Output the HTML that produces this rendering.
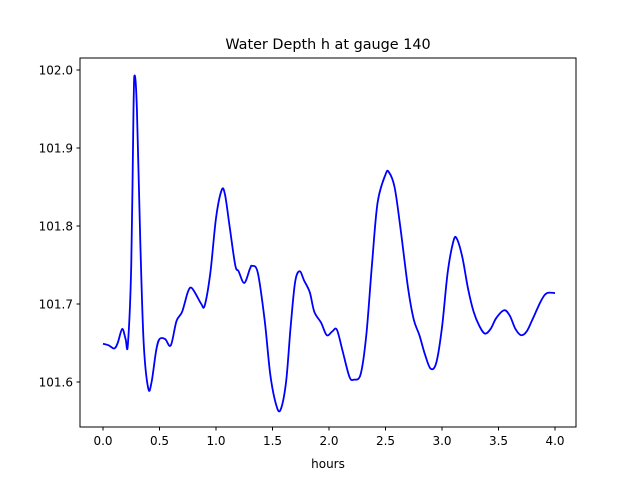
<!DOCTYPE html>
<html><head><meta charset="utf-8"><style>
body{margin:0;background:#fff}
svg text{font-family:"DejaVu Sans","Liberation Sans",sans-serif;fill:#000}
</style></head><body>
<svg id="chart" width="640" height="480" xmlns="http://www.w3.org/2000/svg">
<rect width="640" height="480" fill="#fff"/>
<text x="328" y="49" font-size="14.4" text-anchor="middle">Water Depth h at gauge 140</text>
<text x="328" y="468" font-size="12" text-anchor="middle">hours</text>
<g id="ticks"></g>
<path id="line" fill="none" stroke="#0000ff" stroke-width="1.8" stroke-linejoin="round"/>
<rect x="80" y="58" width="496" height="369" fill="none" stroke="#000" stroke-width="1"/>
</svg>
<script>
const hours=[0,0.05,0.1,0.13,0.17,0.2,0.22,0.25,0.27,0.28,0.30,0.33,0.36,0.40,0.43,0.47,0.5,0.55,0.6,0.65,0.7,0.75,0.78,0.82,0.87,0.9,0.95,1.0,1.05,1.08,1.12,1.17,1.2,1.25,1.3,1.32,1.37,1.43,1.48,1.53,1.57,1.62,1.66,1.7,1.74,1.78,1.83,1.87,1.93,1.98,2.03,2.07,2.12,2.18,2.22,2.28,2.33,2.38,2.43,2.5,2.53,2.58,2.63,2.7,2.75,2.8,2.85,2.9,2.95,3.0,3.05,3.1,3.13,3.18,3.23,3.28,3.33,3.38,3.43,3.48,3.55,3.6,3.65,3.7,3.75,3.8,3.88,3.93,4.0];
const depth=[101.649,101.647,101.643,101.650,101.668,101.655,101.648,101.75,101.95,101.993,101.95,101.78,101.65,101.592,101.60,101.64,101.655,101.655,101.647,101.678,101.69,101.715,101.721,101.713,101.70,101.698,101.74,101.81,101.846,101.84,101.80,101.75,101.742,101.727,101.745,101.749,101.74,101.68,101.61,101.572,101.564,101.60,101.67,101.728,101.742,101.73,101.715,101.69,101.676,101.66,101.665,101.667,101.64,101.607,101.603,101.61,101.66,101.75,101.83,101.866,101.869,101.85,101.80,101.72,101.68,101.66,101.635,101.617,101.625,101.67,101.74,101.78,101.784,101.76,101.72,101.69,101.672,101.662,101.668,101.682,101.692,101.685,101.668,101.66,101.665,101.68,101.705,101.714,101.714];
const xTicks=[0,0.5,1,1.5,2,2.5,3,3.5,4];
const xTickLabels=["0.0","0.5","1.0","1.5","2.0","2.5","3.0","3.5","4.0"];
const yTicks=[101.6,101.7,101.8,101.9,102.0];
const yTickLabels=["101.6","101.7","101.8","101.9","102.0"];
const X=v=>103+v*113;
const Y=v=>382-(v-101.6)*780;
const NS="http://www.w3.org/2000/svg";
const g=document.getElementById('ticks');
xTicks.forEach((t,i)=>{
  const l=document.createElementNS(NS,'line');
  l.setAttribute('x1',X(t));l.setAttribute('x2',X(t));l.setAttribute('y1',427);l.setAttribute('y2',430.5);l.setAttribute('stroke','#000');
  
  
  g.appendChild(l);
  const tx=document.createElementNS(NS,'text');
  tx.setAttribute('x',X(t));tx.setAttribute('y',445);tx.setAttribute('font-size','12');tx.setAttribute('text-anchor','middle');
  tx.textContent=xTickLabels[i];
  
  
  g.appendChild(tx);
});
yTicks.forEach((t,i)=>{
  const l=document.createElementNS(NS,'line');
  l.setAttribute('x1',76.5);l.setAttribute('x2',80);l.setAttribute('y1',Y(t));l.setAttribute('y2',Y(t));l.setAttribute('stroke','#000');
  
  
  g.appendChild(l);
  const tx=document.createElementNS(NS,'text');
  tx.setAttribute('x',73);tx.setAttribute('y',Y(t)+4.5);tx.setAttribute('font-size','12');tx.setAttribute('text-anchor','end');
  tx.textContent=yTickLabels[i];
  
  
  g.appendChild(tx);
});
const pts=hours.map((h,i)=>[X(h),Y(depth[i])]);
let d='M'+pts[0][0]+','+pts[0][1];
for(let i=0;i<pts.length-1;i++){
  const p0=pts[Math.max(0,i-1)],p1=pts[i],p2=pts[i+1],p3=pts[Math.min(pts.length-1,i+2)];
  const c1=[p1[0]+(p2[0]-p0[0])/6,p1[1]+(p2[1]-p0[1])/6];
  const c2=[p2[0]-(p3[0]-p1[0])/6,p2[1]-(p3[1]-p1[1])/6];
  d+=' C'+c1+' '+c2+' '+p2;
}
document.getElementById('line').setAttribute('d',d);
</script>
</body></html>
